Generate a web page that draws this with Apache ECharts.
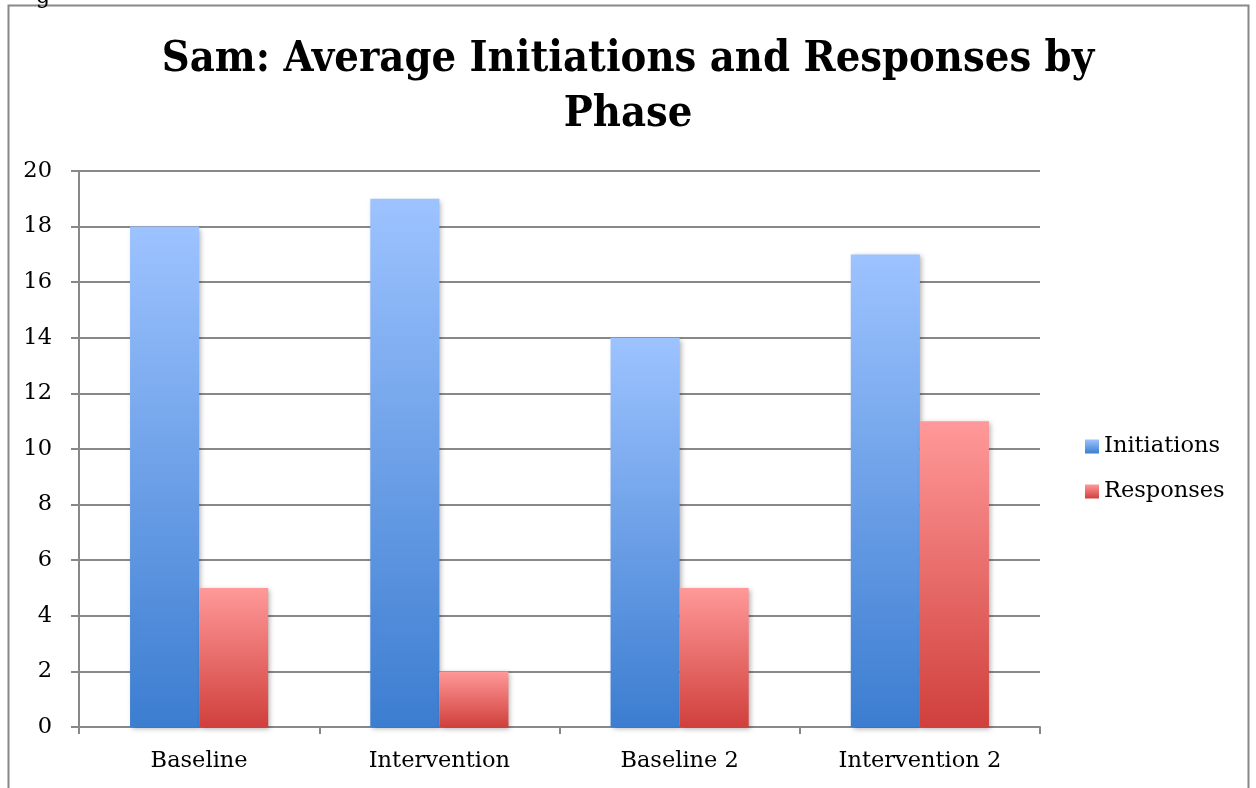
<!DOCTYPE html>
<html>
<head>
<meta charset="utf-8">
<script src="https://cdn.jsdelivr.net/npm/echarts@6/dist/echarts.min.js"></script>
<style>html,body{margin:0;padding:0;background:#fff}#c{width:1256px;height:788px}</style>
</head>
<body>
<div id="c"></div>
<script>
const categories = ['Baseline', 'Intervention', 'Baseline 2', 'Intervention 2'];
const initiations = [18, 19, 14, 17];
const responses = [5, 2, 5, 11];
const yTicks = [0, 2, 4, 6, 8, 10, 12, 14, 16, 18, 20];
const titleText = 'Sam: Average Initiations and Responses by\nPhase';

const FONT = 'DejaVu Serif';
const chart = echarts.init(document.getElementById('c'));
function grad(top, bottom) {
  return new echarts.graphic.LinearGradient(0, 0, 0, 1, [
    {offset: 0, color: top}, {offset: 1, color: bottom}
  ]);
}
chart.setOption({
  backgroundColor: '#fff',
  animation: false,
  title: {
    text: titleText,
    left: 'center', top: 27,
    textStyle: {fontFamily: '"DejaVu Serif Condensed", "DejaVu Serif"', fontWeight: 'bold', fontSize: 43, lineHeight: 55, color: '#000'}
  },
  graphic: [
    {type: 'rect', shape: {x: 8.5, y: 5.5, width: 1240, height: 800}, style: {fill: 'none', stroke: '#888', lineWidth: 2}},
    {type: 'text', left: 36, top: -14, style: {text: 'g', font: '22px "' + FONT + '"', fill: '#000'}}
  ],
  legend: {
    orient: 'vertical', left: 1080, top: 430, itemGap: 22,
    itemWidth: 14, itemHeight: 14, icon: 'rect',
    textStyle: {fontFamily: FONT, fontSize: 22.5, color: '#000'},
    data: ['Initiations', 'Responses']
  },
  grid: {left: 79, right: 216, top: 171, bottom: 61, containLabel: false},
  xAxis: {
    type: 'category', data: categories,
    axisLine: {lineStyle: {color: '#888', width: 2}},
    axisTick: {show: true, length: 7, lineStyle: {color: '#888', width: 2}},
    axisLabel: {fontFamily: FONT, fontSize: 22.5, color: '#000', margin: 23}
  },
  yAxis: {
    type: 'value', min: 0, max: 20, interval: 2,
    axisLine: {show: true, lineStyle: {color: '#888', width: 2}},
    axisTick: {show: true, length: 8, lineStyle: {color: '#888', width: 2}},
    splitLine: {lineStyle: {color: '#888', width: 2}},
    axisLabel: {fontFamily: FONT, fontSize: 22.5, color: '#000', margin: 27,
      formatter: v => yTicks.includes(v) ? String(v) : ''}
  },
  series: [
    {name: 'Initiations', type: 'bar', data: initiations, barGap: '0%', barCategoryGap: '42.5%',
     itemStyle: {color: grad('#9DC3FF', '#3C7DD0'), shadowBlur: 5, shadowColor: 'rgba(0,0,0,0.3)', shadowOffsetX: 2, shadowOffsetY: 2}},
    {name: 'Responses', type: 'bar', data: responses, barGap: '0%', barCategoryGap: '42.5%',
     itemStyle: {color: grad('#FF9999', '#D0403C'), shadowBlur: 5, shadowColor: 'rgba(0,0,0,0.3)', shadowOffsetX: 2, shadowOffsetY: 2}}
  ]
});
</script>
</body>
</html>
